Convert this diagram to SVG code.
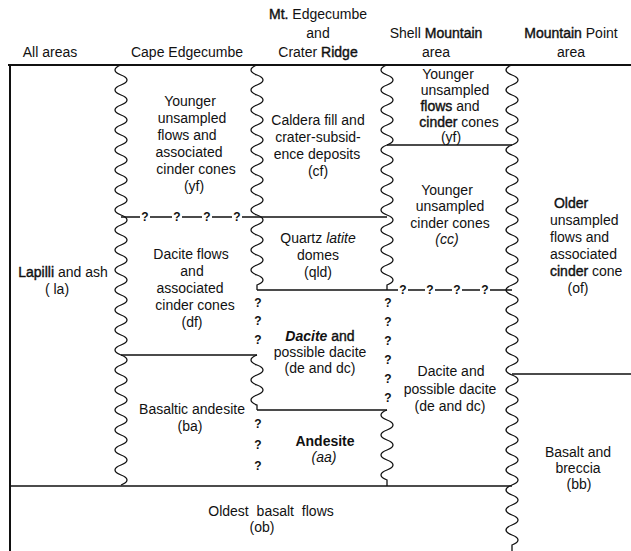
<svg xmlns="http://www.w3.org/2000/svg" width="631" height="551" viewBox="0 0 631 551">
<defs>
<style>
.t{font-family:"Liberation Sans",Arial,sans-serif;font-size:14px;fill:#111;text-anchor:middle}
.s{text-anchor:start}
.b{font-weight:bold}
.sb{stroke:#111;stroke-width:0.4}
.i{font-style:italic}
.q{font-family:"Liberation Sans",Arial,sans-serif;font-size:12px;font-weight:bold;fill:#111;text-anchor:middle}
.ln{stroke:#111;stroke-width:1.3;fill:none}
.fr{stroke:#111;stroke-width:2;fill:none}
</style>
</defs>
<rect width="631" height="551" fill="#fff"/>

<g id="headers">
<text class="t" x="50" y="57">All areas</text>
<text class="t" x="187" y="57">Cape Edgecumbe</text>
<text class="t" x="318" y="19"><tspan class="sb">Mt.</tspan> Edgecumbe</text>
<text class="t" x="318" y="38">and</text>
<text class="t" x="318" y="57">Crater <tspan class="sb">Ridge</tspan></text>
<text class="t" x="436" y="38">Shell <tspan class="sb">Mountain</tspan></text>
<text class="t" x="436" y="57">area</text>
<text class="t" x="571" y="38"><tspan class="sb">Mountain</tspan> Point</text>
<text class="t" x="571" y="57">area</text>
</g>

<g id="connectors">
<path class="fr" d="M8,65 H631 M10,65 V551"/>
<path class="ln" d="M10,486 H512"/>
<path id="wavy1" class="ln" d="M121,65 c-8,3 -8,7 0,10 c8,3 8,7 0,10 c-8,3 -8,7 0,10 c8,3 8,7 0,10 c-8,3 -8,7 0,10 c8,3 8,7 0,10 c-8,3 -8,7 0,10 c8,3 8,7 0,10 c-8,3 -8,7 0,10 c8,3 8,7 0,10 c-8,3 -8,7 0,10 c8,3 8,7 0,10 c-8,3 -8,7 0,10 c8,3 8,7 0,10 c-8,3 -8,7 0,10 c8,3 8,7 0,10 c-8,3 -8,7 0,10 c8,3 8,7 0,10 c-8,3 -8,7 0,10 c8,3 8,7 0,10 c-8,3 -8,7 0,10 c8,3 8,7 0,10 c-8,3 -8,7 0,10 c8,3 8,7 0,10 c-8,3 -8,7 0,10 c8,3 8,7 0,10 c-8,3 -8,7 0,10 c8,3 8,7 0,10 c-8,3 -8,7 0,10 c8,3 8,7 0,10 c-8,3 -8,7 0,10 c8,3 8,7 0,10 c-8,3 -8,7 0,10 c8,3 8,7 0,10 c-8,3 -8,7 0,10 c8,3 8,7 0,10 c-8,3 -8,7 0,10 c8,3 8,7 0,10 c-8,3 -8,7 0,10 c8,3 8,7 0,10 c-8,3 -8,7 0,10 c8,3 8,7 0,10"/>
<path id="wavy2a" class="ln" d="M257,65 c-8,3 -8,7 0,10 c8,3 8,7 0,10 c-8,3 -8,7 0,10 c8,3 8,7 0,10 c-8,3 -8,7 0,10 c8,3 8,7 0,10 c-8,3 -8,7 0,10 c8,3 8,7 0,10 c-8,3 -8,7 0,10 c8,3 8,7 0,10 c-8,3 -8,7 0,10 c8,3 8,7 0,10 c-8,3 -8,7 0,10 c8,3 8,7 0,10 c-8,3 -8,7 0,10 c8,3 8,7 0,10 c-8,3 -8,7 0,10 c8,3 8,7 0,10 c-8,3 -8,7 0,10 c8,3 8,7 0,10 c-8,3 -8,7 0,10 c8,3 8,7 0,10 l0,5"/>
<path id="wavy2b" class="ln" d="M257,355 c-8,3 -8,7 0,10 c8,3 8,7 0,10 c-8,3 -8,7 0,10 c8,3 8,7 0,10 c-8,3 -8,7 0,10 l0,5"/>
<path id="wavy3a" class="ln" d="M387,65 c-8,3 -8,7 0,10 c8,3 8,7 0,10 c-8,3 -8,7 0,10 c8,3 8,7 0,10 c-8,3 -8,7 0,10 c8,3 8,7 0,10 c-8,3 -8,7 0,10 c8,3 8,7 0,10 c-8,3 -8,7 0,10 c8,3 8,7 0,10 c-8,3 -8,7 0,10 c8,3 8,7 0,10 c-8,3 -8,7 0,10 c8,3 8,7 0,10 c-8,3 -8,7 0,10 c8,3 8,7 0,10 c-8,3 -8,7 0,10 c8,3 8,7 0,10 c-8,3 -8,7 0,10 c8,3 8,7 0,10 c-8,3 -8,7 0,10 c8,3 8,7 0,10 l0,5"/>
<path id="wavy3b" class="ln" d="M387,410 c-8,3 -8,7 0,10 c8,3 8,7 0,10 c-8,3 -8,7 0,10 c8,3 8,7 0,10 c-8,3 -8,7 0,10 c8,3 8,7 0,10 c-8,3 -8,7 0,10 l0,6"/>
<path id="wavy4" class="ln" d="M512,65 c-8,3 -8,7 0,10 c8,3 8,7 0,10 c-8,3 -8,7 0,10 c8,3 8,7 0,10 c-8,3 -8,7 0,10 c8,3 8,7 0,10 c-8,3 -8,7 0,10 c8,3 8,7 0,10 c-8,3 -8,7 0,10 c8,3 8,7 0,10 c-8,3 -8,7 0,10 c8,3 8,7 0,10 c-8,3 -8,7 0,10 c8,3 8,7 0,10 c-8,3 -8,7 0,10 c8,3 8,7 0,10 c-8,3 -8,7 0,10 c8,3 8,7 0,10 c-8,3 -8,7 0,10 c8,3 8,7 0,10 c-8,3 -8,7 0,10 c8,3 8,7 0,10 c-8,3 -8,7 0,10 c8,3 8,7 0,10 c-8,3 -8,7 0,10 c8,3 8,7 0,10 c-8,3 -8,7 0,10 c8,3 8,7 0,10 c-8,3 -8,7 0,10 c8,3 8,7 0,10 c-8,3 -8,7 0,10 c8,3 8,7 0,10 c-8,3 -8,7 0,10 c8,3 8,7 0,10 c-8,3 -8,7 0,10 c8,3 8,7 0,10 c-8,3 -8,7 0,10 c8,3 8,7 0,10 c-8,3 -8,7 0,10 c8,3 8,7 0,10 c-8,3 -8,7 0,10 c8,3 8,7 0,10 c-8,3 -8,7 0,10 c8,3 8,7 0,10 c-8,3 -8,7 0,10 c8,3 8,7 0,10 c-8,3 -8,7 0,10 c8,3 8,7 0,10 l0,6"/>
<path class="ln" d="M121,217 H140 M150,217 H172 M182,217 H202 M212,217 H232 M242,217 H387"/>
<path class="ln" d="M257,290 H398 M408,290 H425 M435,290 H452 M462,290 H480 M490,290 H512"/>
<path class="ln" d="M121,355 H257 M257,410 H387 M387,145 H512 M512,374 H631"/>
</g>

<g id="question-marks">
<text class="q" x="145" y="221">?</text>
<text class="q" x="177" y="221">?</text>
<text class="q" x="207" y="221">?</text>
<text class="q" x="237" y="221">?</text>
<text class="q" x="403" y="294">?</text>
<text class="q" x="430" y="294">?</text>
<text class="q" x="457" y="294">?</text>
<text class="q" x="485" y="294">?</text>
<text class="q" x="258" y="307">?</text>
<text class="q" x="258" y="325">?</text>
<text class="q" x="258" y="344">?</text>
<text class="q" x="258" y="428">?</text>
<text class="q" x="258" y="449">?</text>
<text class="q" x="258" y="470">?</text>
<text class="q" x="388" y="307">?</text>
<text class="q" x="388" y="326">?</text>
<text class="q" x="388" y="345">?</text>
<text class="q" x="388" y="364">?</text>
<text class="q" x="388" y="383">?</text>
<text class="q" x="388" y="402">?</text>
</g>

<g id="unit-la">
<text class="t" x="63" y="277"><tspan class="sb">Lapilli</tspan> and ash</text>
<text class="t" x="57" y="294">( la)</text>
</g>

<g id="unit-cape-yf">
<text class="t" x="190" y="106">Younger</text>
<text class="t" x="192" y="123">unsampled</text>
<text class="t" x="187" y="140">flows and</text>
<text class="t" x="189" y="157">associated</text>
<text class="t" x="196" y="174">cinder cones</text>
<text class="t" x="194" y="191">(yf)</text>
</g>

<g id="unit-df">
<text class="t" x="191" y="259">Dacite flows</text>
<text class="t" x="192" y="276">and</text>
<text class="t" x="190" y="293">associated</text>
<text class="t" x="195" y="310">cinder cones</text>
<text class="t" x="192" y="327">(df)</text>
</g>

<g id="unit-ba">
<text class="t" x="192" y="414">Basaltic andesite</text>
<text class="t" x="190" y="431">(ba)</text>
</g>

<g id="unit-cf">
<text class="t" x="318" y="125">Caldera fill and</text>
<text class="t" x="318" y="142">crater-subsid-</text>
<text class="t" x="317" y="159">ence deposits</text>
<text class="t" x="318" y="176">(cf)</text>
</g>

<g id="unit-qld">
<text class="t" x="318" y="243">Quartz <tspan class="i">latite</tspan></text>
<text class="t" x="318" y="260">domes</text>
<text class="t" x="318" y="277">(qld)</text>
</g>

<g id="unit-mt-de">
<text class="t" x="320" y="341"><tspan class="b i">Dacite</tspan> <tspan class="sb">and</tspan></text>
<text class="t" x="320" y="357">possible dacite</text>
<text class="t" x="320" y="373">(de and dc)</text>
</g>

<g id="unit-aa">
<text class="t b" x="325" y="446">Andesite</text>
<text class="t i" x="324" y="462">(aa)</text>
</g>

<g id="unit-shell-yf">
<text class="t" x="448" y="79">Younger</text>
<text class="t" x="455" y="95">unsampled</text>
<text class="t" x="450" y="111"><tspan class="sb">flows</tspan> and</text>
<text class="t" x="459" y="127"><tspan class="sb">cinder</tspan> cones</text>
<text class="t" x="451" y="142">(yf)</text>
</g>

<g id="unit-cc">
<text class="t" x="447" y="195">Younger</text>
<text class="t" x="450" y="211">unsampled</text>
<text class="t" x="450" y="228">cinder cones</text>
<text class="t i" x="447" y="244">(cc)</text>
</g>

<g id="unit-shell-de">
<text class="t" x="451" y="376">Dacite and</text>
<text class="t" x="450" y="394">possible dacite</text>
<text class="t" x="450" y="411">(de and dc)</text>
</g>

<g id="unit-of">
<text class="t sb" x="571" y="208">Older</text>
<text class="t s" x="550" y="225">unsampled</text>
<text class="t s" x="550" y="242">flows and</text>
<text class="t s" x="550" y="259">associated</text>
<text class="t s" x="550" y="276"><tspan class="sb">cinder</tspan> cone</text>
<text class="t" x="578" y="293">(of)</text>
</g>

<g id="unit-bb">
<text class="t" x="578" y="457">Basalt and</text>
<text class="t" x="578" y="473">breccia</text>
<text class="t" x="579" y="489">(bb)</text>
</g>

<g id="unit-ob">
<text class="t" x="271" y="516" word-spacing="4">Oldest basalt flows</text>
<text class="t" x="262" y="532">(ob)</text>
</g>
</svg>
